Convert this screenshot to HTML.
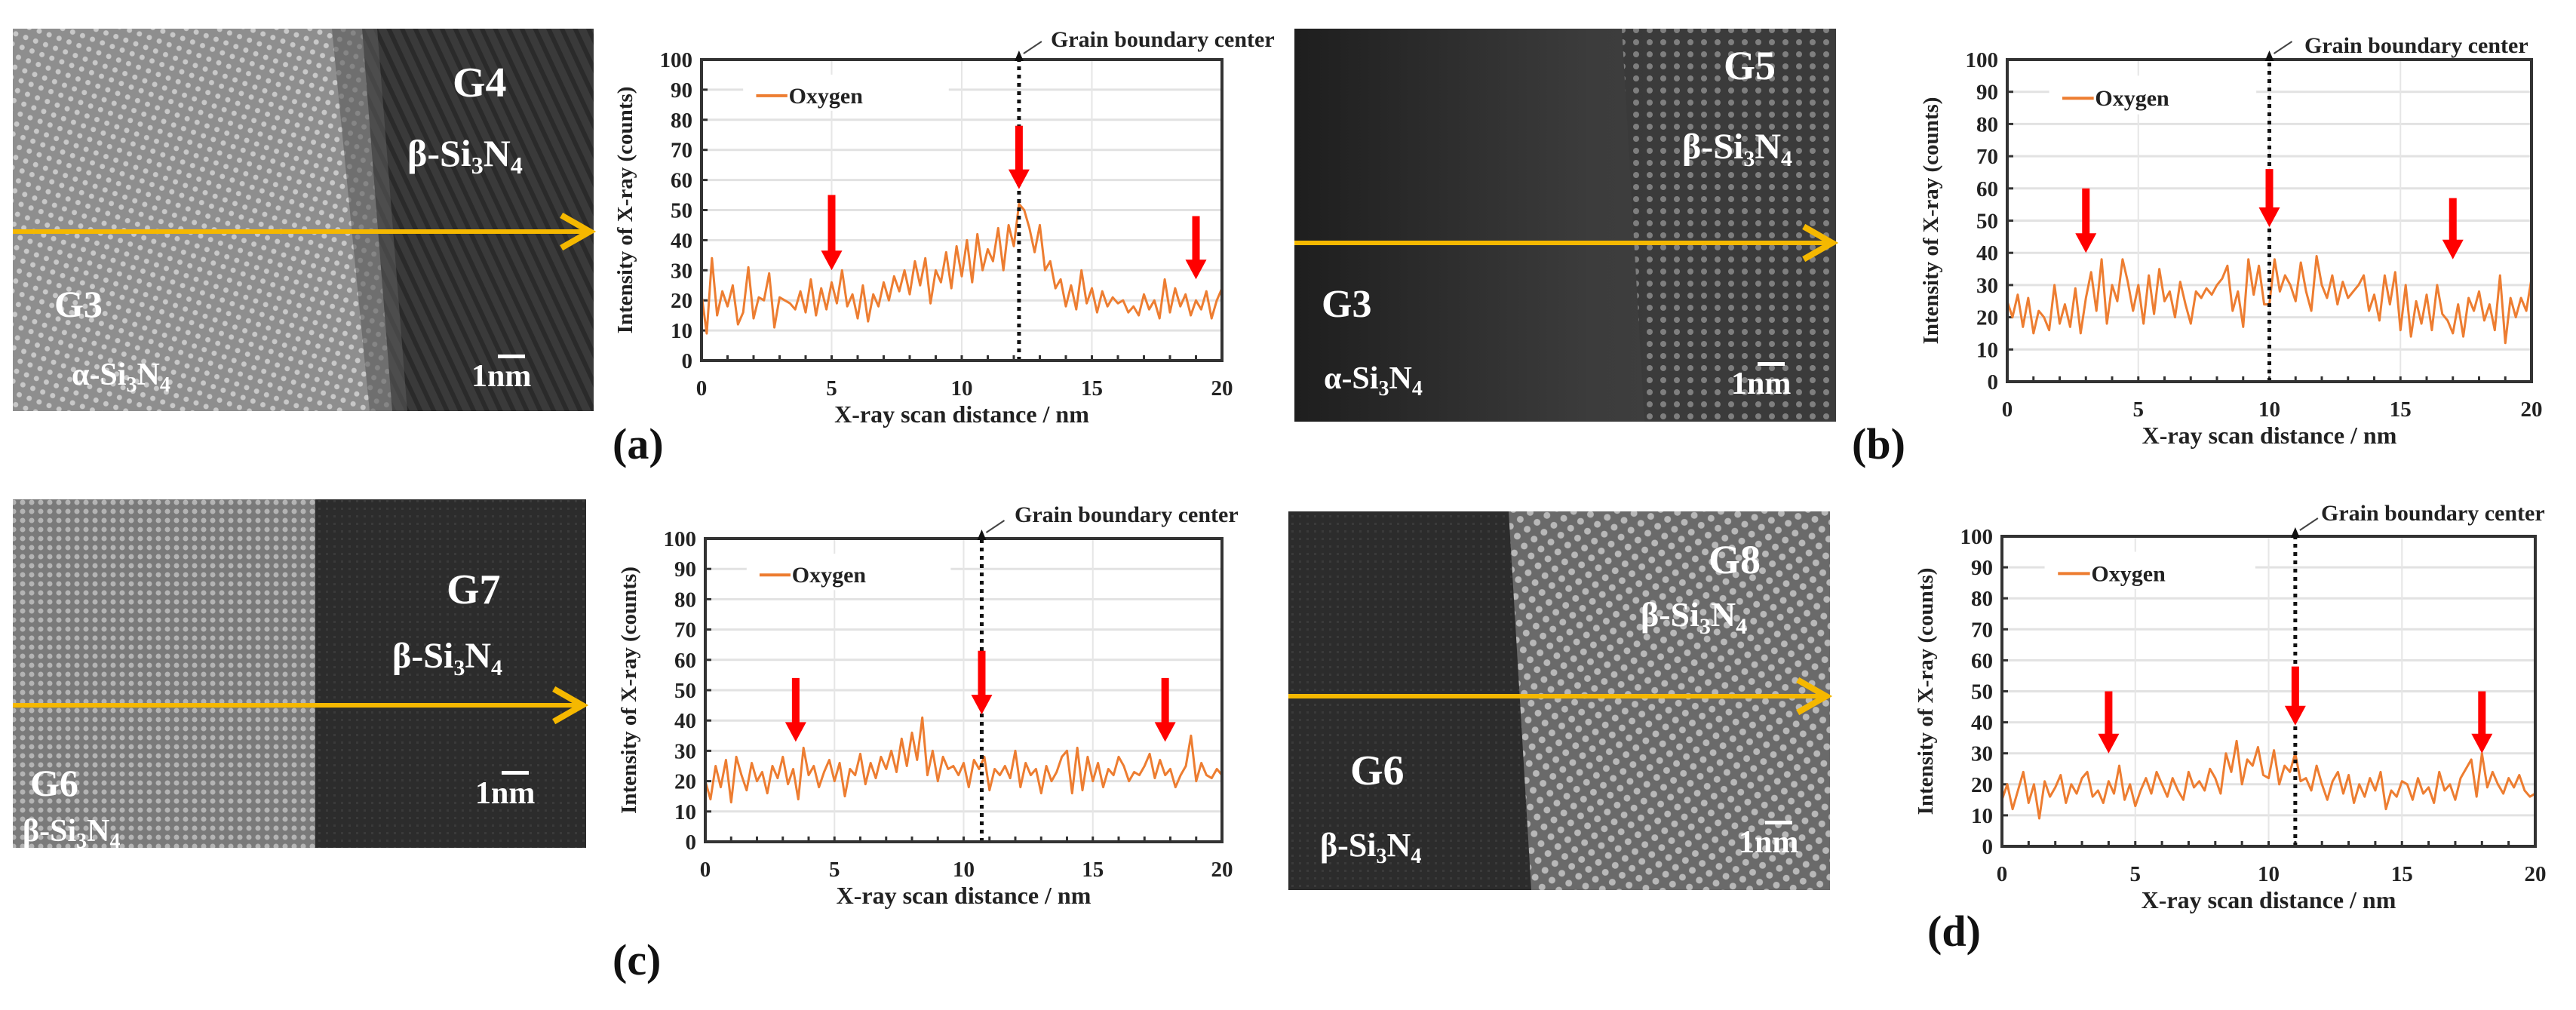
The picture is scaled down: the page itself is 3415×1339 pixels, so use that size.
<!DOCTYPE html>
<html><head><meta charset="utf-8">
<style>
html,body{margin:0;padding:0;background:#fff;}
svg{display:block;font-family:"Liberation Serif",serif;}
</style></head>
<body>
<svg id="fig" width="3415" height="1339" viewBox="0 0 3415 1339" xmlns="http://www.w3.org/2000/svg">
<defs>
  <pattern id="dotsLight" width="14" height="14" patternUnits="userSpaceOnUse" patternTransform="rotate(20)">
    <rect width="14" height="14" fill="#8e8e8e"/><circle cx="7" cy="7" r="3.5" fill="#c8c8c8"/>
  </pattern>
  <pattern id="stripesDark" width="16" height="16" patternUnits="userSpaceOnUse" patternTransform="rotate(-25)">
    <rect width="16" height="16" fill="#3a3a3a"/><rect width="6" height="16" fill="#2a2a2a"/>
  </pattern>
  <pattern id="hexDots" width="18" height="16" patternUnits="userSpaceOnUse">
    <rect width="18" height="16" fill="#3a3a3a"/><circle cx="9" cy="8" r="4" fill="#8a8a8a"/>
  </pattern>
  <pattern id="vStripes" width="12" height="12" patternUnits="userSpaceOnUse">
    <rect width="12" height="12" fill="#7a7a7a"/><circle cx="6" cy="6" r="3.5" fill="#b4b4b4"/>
  </pattern>
  <pattern id="diagDots" width="16" height="16" patternUnits="userSpaceOnUse" patternTransform="rotate(-35)">
    <rect width="16" height="16" fill="#6a6a6a"/><circle cx="8" cy="8" r="4.5" fill="#b8b8b8"/>
  </pattern>
  <pattern id="noiseDark" width="10" height="10" patternUnits="userSpaceOnUse">
    <rect width="10" height="10" fill="#2c2c2c"/><rect x="2" y="3" width="3" height="3" fill="#3a3a3a"/>
  </pattern>
  <linearGradient id="gradB" x1="0" x2="1" y1="0" y2="0">
    <stop offset="0" stop-color="#1e1e1e"/><stop offset="0.55" stop-color="#3c3c3c"/><stop offset="1" stop-color="#444"/>
  </linearGradient>
  <marker id="yArrow" viewBox="0 0 20 20" refX="16" refY="10" markerWidth="9" markerHeight="9" orient="auto">
    <path d="M2,2 L16,10 L2,18" fill="none" stroke="#f5b800" stroke-width="3"/>
  </marker>
</defs>

<!-- Photo a -->
<g>
  <rect x="17" y="38" width="770" height="507" fill="url(#dotsLight)"/>
  <polygon points="480,38 787,38 787,545 520,545" fill="url(#stripesDark)"/>
  <polygon points="440,38 500,38 540,545 490,545" fill="#5a5a5a" opacity="0.6"/>
  <line x1="17" y1="307" x2="782" y2="307" stroke="#f5b800" stroke-width="6" marker-end="url(#yArrow)"/>
  <g fill="#fff" font-weight="bold">
    <text x="600" y="128" font-size="56">G4</text>
    <text x="540" y="220" font-size="50">β-Si<tspan font-size="32" dy="10">3</tspan><tspan dy="-10">N</tspan><tspan font-size="32" dy="10">4</tspan></text>
    <text x="72" y="420" font-size="50">G3</text>
    <text x="95" y="510" font-size="42">α-Si<tspan font-size="28" dy="9">3</tspan><tspan dy="-9">N</tspan><tspan font-size="28" dy="9">4</tspan></text>
    <rect x="660" y="470" width="36" height="5"/>
    <text x="625" y="512" font-size="42">1nm</text>
  </g>
</g>

<!-- Photo b -->
<g>
  <rect x="1716" y="38" width="718" height="521" fill="url(#gradB)"/>
  <polygon points="2150,38 2434,38 2434,559 2180,559" fill="url(#hexDots)" opacity="0.85"/>
  <line x1="1716" y1="322" x2="2429" y2="322" stroke="#f5b800" stroke-width="6" marker-end="url(#yArrow)"/>
  <g fill="#fff" font-weight="bold">
    <text x="2285" y="105" font-size="54">G5</text>
    <text x="2230" y="210" font-size="48">β-Si<tspan font-size="30" dy="10">3</tspan><tspan dy="-10">N</tspan><tspan font-size="30" dy="10">4</tspan></text>
    <text x="1752" y="420" font-size="52">G3</text>
    <text x="1755" y="515" font-size="42">α-Si<tspan font-size="28" dy="9">3</tspan><tspan dy="-9">N</tspan><tspan font-size="28" dy="9">4</tspan></text>
    <rect x="2330" y="480" width="36" height="5"/>
    <text x="2295" y="522" font-size="42">1nm</text>
  </g>
</g>

<!-- Photo c -->
<g>
  <rect x="17" y="662" width="760" height="462" fill="url(#vStripes)"/>
  <rect x="418" y="662" width="359" height="462" fill="url(#noiseDark)"/>
  <line x1="17" y1="935" x2="772" y2="935" stroke="#f5b800" stroke-width="6" marker-end="url(#yArrow)"/>
  <g fill="#fff" font-weight="bold">
    <text x="592" y="800" font-size="56">G7</text>
    <text x="520" y="885" font-size="48">β-Si<tspan font-size="30" dy="10">3</tspan><tspan dy="-10">N</tspan><tspan font-size="30" dy="10">4</tspan></text>
    <text x="40" y="1055" font-size="50">G6</text>
    <text x="30" y="1115" font-size="42">β-Si<tspan font-size="28" dy="9">3</tspan><tspan dy="-9">N</tspan><tspan font-size="28" dy="9">4</tspan></text>
    <rect x="665" y="1022" width="36" height="5"/>
    <text x="630" y="1065" font-size="42">1nm</text>
  </g>
</g>

<!-- Photo d -->
<g>
  <rect x="1708" y="678" width="718" height="502" fill="url(#noiseDark)"/>
  <polygon points="2000,678 2426,678 2426,1180 2030,1180" fill="url(#diagDots)"/>
  <line x1="1708" y1="923" x2="2421" y2="923" stroke="#f5b800" stroke-width="6" marker-end="url(#yArrow)"/>
  <g fill="#fff" font-weight="bold">
    <text x="2265" y="760" font-size="54">G8</text>
    <text x="2175" y="830" font-size="46">β-Si<tspan font-size="30" dy="10">3</tspan><tspan dy="-10">N</tspan><tspan font-size="30" dy="10">4</tspan></text>
    <text x="1790" y="1040" font-size="56">G6</text>
    <text x="1750" y="1135" font-size="44">β-Si<tspan font-size="28" dy="9">3</tspan><tspan dy="-9">N</tspan><tspan font-size="28" dy="9">4</tspan></text>
    <rect x="2340" y="1088" width="36" height="5"/>
    <text x="2305" y="1130" font-size="42">1nm</text>
  </g>
</g>

<!-- Panel labels -->
<g font-weight="bold" font-size="58" fill="#111">
  <text x="812" y="608">(a)</text>
  <text x="2455" y="608">(b)</text>
  <text x="812" y="1292">(c)</text>
  <text x="2555" y="1254">(d)</text>
</g>

<g id="charts"></g>
</svg>

<script>
// ---- chart data (oxygen X-ray intensity, counts) ----
const xTicks = [0, 5, 10, 15, 20];
const yTicks = [0, 10, 20, 30, 40, 50, 60, 70, 80, 90, 100];
const seriesA = [22,9,34,15,23,18,25,12,16,31,14,21,20,29,11,21,20,19,17,23,16,27,15,24,17,26,19,30,18,22,14,25,13,22,18,26,20,28,23,30,22,33,25,34,19,30,26,36,24,38,28,40,26,42,30,37,33,44,30,45,38,52,50,44,36,45,30,33,24,27,18,25,17,30,19,24,16,23,18,21,19,20,16,18,15,22,17,20,14,27,16,24,18,22,15,20,17,23,14,20,24];
const seriesB = [25,20,27,17,26,15,22,20,16,30,18,24,17,29,15,26,34,22,38,18,30,25,38,31,22,30,18,33,21,35,25,28,20,31,24,18,28,26,29,27,30,32,36,22,28,17,38,27,36,24,24,38,28,33,30,25,37,28,22,39,30,26,33,24,31,26,28,30,33,22,27,19,33,24,34,16,30,14,25,18,27,16,30,21,19,15,24,14,26,22,28,19,24,16,33,12,26,20,26,22,32];
const seriesC = [20,14,25,18,27,13,28,22,17,26,20,23,16,25,21,28,19,24,14,31,22,25,18,23,27,20,26,15,24,22,29,19,26,21,28,24,30,23,34,25,36,27,41,22,30,20,28,24,25,22,26,18,27,24,28,17,24,22,25,21,30,18,26,22,24,16,25,20,23,28,30,16,31,17,28,20,26,18,24,22,28,25,20,23,22,25,29,21,27,22,24,18,22,25,35,20,26,22,21,24,22];
const seriesD = [15,20,12,18,24,14,20,9,21,16,19,23,14,20,17,22,24,16,18,14,21,17,26,15,20,13,18,22,17,24,20,16,22,18,15,24,19,21,18,25,22,17,30,24,34,20,28,26,32,23,22,31,20,26,24,30,21,22,18,26,20,15,21,24,17,23,14,20,16,22,18,24,12,18,16,21,20,15,22,17,19,14,24,18,20,15,22,25,28,16,30,19,24,20,17,22,19,23,18,16,17];
const boundaryA = 12.2, boundaryB = 10, boundaryC = 10.7, boundaryD = 11.0;
const arrowsA = [[5, 55, 30], [12.2, 78, 57], [19, 48, 27]];
const arrowsB = [[3, 60, 40], [10, 66, 48], [17, 57, 38]];
const arrowsC = [[3.5, 54, 33], [10.7, 63, 42], [17.8, 54, 33]];
const arrowsD = [[4, 50, 30], [11, 58, 39], [18, 50, 30]];

const NS = "http://www.w3.org/2000/svg";
const root = document.getElementById('charts');
function mk(tag, attrs, parent) {
  const e = document.createElementNS(NS, tag);
  for (const k in attrs) e.setAttribute(k, attrs[k]);
  (parent || root).appendChild(e);
  return e;
}

function drawChart(id, box, data, boundary, arrows, gbText) {
  const g = mk('g', {});
  
  
  const X = v => box.x0 + (v / 20) * (box.x1 - box.x0);
  const Y = v => box.y0 - (v / 100) * (box.y0 - box.y1);
  yTicks.forEach(t => {
    if (t === 0 || t === 100) return;
    const l = mk('line', {x1: X(0), x2: X(20), y1: Y(t), y2: Y(t), stroke: '#e2e2e2', 'stroke-width': 3}, g);
    
    
  });
  xTicks.forEach(t => {
    if (t === 0 || t === 20) return;
    const l = mk('line', {x1: X(t), x2: X(t), y1: Y(0), y2: Y(100), stroke: '#e6e6e6', 'stroke-width': 2}, g);
    
    
  });
  const lg = mk('g', {}, g);
  
  
  mk('rect', {x: X(1.6), y: Y(95), width: X(9.5) - X(1.6), height: Y(83) - Y(95), fill: '#fff'}, lg);
  mk('line', {x1: X(2.1), x2: X(3.3), y1: Y(88), y2: Y(88), stroke: '#ed7d31', 'stroke-width': 4}, lg);
  const lt = mk('text', {x: X(3.35), y: Y(88) + 10, 'font-size': 30, 'font-weight': 'bold', fill: '#222'}, lg);
  lt.textContent = 'Oxygen';
  for (let t = 1; t < 20; t++) {
    const tk = mk('line', {x1: X(t), x2: X(t), y1: Y(0), y2: Y(0) - 7, stroke: '#333', 'stroke-width': 3}, g);
    
    
  }
  yTicks.forEach(t => {
    mk('line', {x1: X(0), x2: X(0) + 8, y1: Y(t), y2: Y(t), stroke: '#333', 'stroke-width': 3}, g);
    const tl = mk('text', {x: X(0) - 12, y: Y(t) + 10, 'text-anchor': 'end', 'font-size': 29, 'font-weight': 'bold', fill: '#222'}, g);
    tl.textContent = t;
    
    
  });
  xTicks.forEach(t => {
    const tl = mk('text', {x: X(t), y: Y(0) + 46, 'text-anchor': 'middle', 'font-size': 29, 'font-weight': 'bold', fill: '#222'}, g);
    tl.textContent = t;
    
    
  });
  const pts = data.map((v, i) => X(i * 20 / (data.length - 1)).toFixed(1) + ',' + Y(v).toFixed(1)).join(' ');
  const pl = mk('polyline', {points: pts, fill: 'none', stroke: '#ed7d31', 'stroke-width': 3, 'stroke-linejoin': 'round'}, g);
  
  
  const bl = mk('line', {x1: X(boundary), x2: X(boundary), y1: Y(0), y2: Y(100), stroke: '#111', 'stroke-width': 5, 'stroke-dasharray': '5 6'}, g);
  
  
  arrows.forEach(a => {
    const ax = X(a[0]), yt = Y(a[1]), yb = Y(a[2]);
    const ar = mk('path', {d: `M${ax - 5},${yt} L${ax + 5},${yt} L${ax + 5},${yb - 26} L${ax + 14},${yb - 26} L${ax},${yb} L${ax - 14},${yb - 26} L${ax - 5},${yb - 26} Z`, fill: '#ff0000'}, g);
    
    
  });
  const fr = mk('rect', {x: X(0), y: Y(100), width: X(20) - X(0), height: Y(0) - Y(100), fill: 'none', stroke: '#333', 'stroke-width': 4}, g);
  
  
  mk('path', {d: `M${X(boundary) - 6},${Y(100) + 2} L${X(boundary)},${Y(100) - 12} L${X(boundary) + 6},${Y(100) + 2} Z`, fill: '#111'}, g);
  mk('line', {x1: X(boundary) + 6, y1: Y(100) - 8, x2: X(boundary) + 30, y2: Y(100) - 24, stroke: '#444', 'stroke-width': 2}, g);
  const gt = mk('text', {x: gbText[0], y: gbText[1], 'font-size': 30, 'font-weight': 'bold', fill: '#222'}, g);
  gt.textContent = 'Grain boundary center';
  
  
  const xt = mk('text', {x: (X(0) + X(20)) / 2, y: Y(0) + 82, 'text-anchor': 'middle', 'font-size': 32, 'font-weight': 'bold', fill: '#222'}, g);
  xt.textContent = 'X-ray scan distance / nm';
  
  
  const cx = X(0) - 92, cy = (Y(0) + Y(100)) / 2;
  const yt2 = mk('text', {x: cx, y: cy, 'text-anchor': 'middle', 'font-size': 29, 'font-weight': 'bold', fill: '#222', transform: `rotate(-90 ${cx} ${cy})`}, g);
  yt2.textContent = 'Intensity of X-ray  (counts)';
  
  
}

drawChart('a', {x0: 930, x1: 1620, y0: 478, y1: 79}, seriesA, boundaryA, arrowsA, [1393, 62]);
drawChart('b', {x0: 2661, x1: 3356, y0: 506, y1: 79}, seriesB, boundaryB, arrowsB, [3055, 70]);
drawChart('c', {x0: 935, x1: 1620, y0: 1116, y1: 714}, seriesC, boundaryC, arrowsC, [1345, 692]);
drawChart('d', {x0: 2654, x1: 3361, y0: 1122, y1: 711}, seriesD, boundaryD, arrowsD, [3077, 690]);
</script>
</body></html>
